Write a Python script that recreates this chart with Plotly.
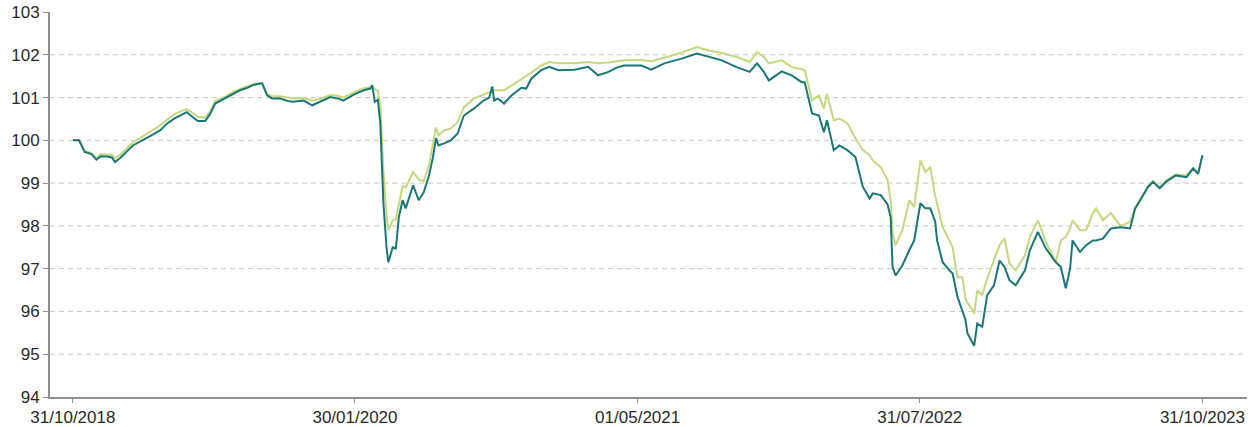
import plotly.graph_objects as go

dates = [
    "2018-10-31", "2018-11-10", "2018-11-19", "2018-11-30", "2018-12-08", "2018-12-15", "2018-12-26",
    "2019-01-02", "2019-01-07", "2019-01-15", "2019-02-05", "2019-02-19", "2019-03-04", "2019-03-21",
    "2019-04-01", "2019-04-14", "2019-04-22", "2019-05-03", "2019-05-12", "2019-05-21", "2019-06-02",
    "2019-06-10", "2019-06-18", "2019-06-29", "2019-07-07", "2019-07-17", "2019-07-28", "2019-08-09",
    "2019-08-18", "2019-08-30", "2019-09-02", "2019-09-10", "2019-09-18", "2019-10-01", "2019-10-13",
    "2019-10-22", "2019-11-08", "2019-11-22", "2019-12-05", "2019-12-21", "2020-01-02", "2020-01-11",
    "2020-01-28", "2020-02-13", "2020-02-24", "2020-02-27", "2020-03-02", "2020-03-07", "2020-03-11",
    "2020-03-16", "2020-03-21", "2020-03-24", "2020-03-31", "2020-04-05", "2020-04-10", "2020-04-16",
    "2020-04-21", "2020-05-03", "2020-05-12", "2020-05-20", "2020-05-28", "2020-06-04", "2020-06-09",
    "2020-06-13", "2020-06-22", "2020-07-03", "2020-07-14", "2020-07-24", "2020-08-09", "2020-08-25",
    "2020-09-03", "2020-09-08", "2020-09-11", "2020-09-17", "2020-09-27", "2020-10-09", "2020-10-25",
    "2020-11-02", "2020-11-10", "2020-11-26", "2020-12-09", "2020-12-24", "2021-01-19", "2021-02-10",
    "2021-02-26", "2021-03-15", "2021-03-28", "2021-04-09", "2021-05-07", "2021-05-23", "2021-06-13",
    "2021-07-11", "2021-08-05", "2021-08-24", "2021-09-14", "2021-10-08", "2021-10-29", "2021-11-10",
    "2021-11-21", "2021-11-29", "2021-12-20", "2022-01-05", "2022-01-21", "2022-01-26", "2022-02-07",
    "2022-02-18", "2022-02-26", "2022-03-03", "2022-03-14", "2022-03-23", "2022-04-05", "2022-04-18",
    "2022-04-30", "2022-05-11", "2022-05-16", "2022-05-29", "2022-06-09", "2022-06-14", "2022-06-17",
    "2022-06-22", "2022-07-03", "2022-07-14", "2022-07-22", "2022-08-01", "2022-08-09", "2022-08-17",
    "2022-08-25", "2022-08-28", "2022-09-06", "2022-09-17", "2022-09-22", "2022-09-30", "2022-10-08",
    "2022-10-13", "2022-10-16", "2022-10-24", "2022-10-27", "2022-11-01", "2022-11-09", "2022-11-17",
    "2022-11-28", "2022-12-07", "2022-12-15", "2022-12-23", "2023-01-02", "2023-01-17", "2023-01-25",
    "2023-02-07", "2023-02-20", "2023-03-08", "2023-03-16", "2023-03-24", "2023-03-31", "2023-04-04",
    "2023-04-16", "2023-04-26", "2023-05-07", "2023-05-12", "2023-05-23", "2023-06-05", "2023-06-20",
    "2023-07-06", "2023-07-14", "2023-07-24", "2023-08-04", "2023-08-12", "2023-08-23", "2023-09-02",
    "2023-09-18", "2023-10-05", "2023-10-16", "2023-10-24", "2023-10-31",
]

series_dark = [
    100.00, 100.00, 99.73, 99.68, 99.55, 99.63, 99.62,
    99.60, 99.49, 99.58, 99.88, 99.98, 100.09, 100.23,
    100.39, 100.52, 100.58, 100.66, 100.55, 100.45, 100.45,
    100.62, 100.86, 100.95, 101.00, 101.10, 101.17, 101.23,
    101.29, 101.33, 101.33, 101.05, 100.98, 100.98, 100.92,
    100.90, 100.93, 100.82, 100.90, 101.01, 100.98, 100.93,
    101.07, 101.17, 101.21, 101.29, 100.90, 100.95, 100.39,
    98.52, 97.50, 97.15, 97.50, 97.47, 98.21, 98.60,
    98.41, 98.95, 98.60, 98.78, 99.14, 99.60, 100.05,
    99.88, 99.93, 100.00, 100.16, 100.58, 100.74, 100.93,
    101.00, 101.26, 100.93, 100.98, 100.86, 101.05, 101.23,
    101.21, 101.44, 101.64, 101.72, 101.64, 101.65, 101.72,
    101.52, 101.60, 101.70, 101.75, 101.75, 101.65, 101.80,
    101.91, 102.03, 101.95, 101.87, 101.71, 101.60, 101.80,
    101.60, 101.40, 101.61, 101.52, 101.36, 101.36, 100.63,
    100.58, 100.19, 100.47, 99.77, 99.88, 99.77, 99.61,
    98.91, 98.64, 98.76, 98.72, 98.50, 98.20, 97.04,
    96.84, 97.08, 97.43, 97.66, 98.53, 98.41, 98.41,
    98.10, 97.66, 97.15, 96.96, 96.89, 96.34, 96.00,
    95.80, 95.49, 95.25, 95.20, 95.72, 95.64, 96.38,
    96.61, 97.19, 97.04, 96.73, 96.61, 96.96, 97.43,
    97.86, 97.47, 97.15, 97.04, 96.54, 97.00, 97.66,
    97.39, 97.55, 97.66, 97.66, 97.70, 97.94, 97.97,
    97.94, 98.40, 98.64, 98.91, 99.03, 98.88, 99.03,
    99.18, 99.14, 99.34, 99.22, 99.65,
]

series_light = [
    100.00, 100.00, 99.75, 99.70, 99.58, 99.68, 99.67,
    99.66, 99.58, 99.66, 99.95, 100.08, 100.18, 100.35,
    100.48, 100.62, 100.67, 100.73, 100.65, 100.55, 100.53,
    100.68, 100.92, 101.00, 101.04, 101.14, 101.20, 101.26,
    101.31, 101.34, 101.34, 101.08, 101.03, 101.03, 101.00,
    100.98, 100.99, 100.93, 100.97, 101.06, 101.04, 101.00,
    101.12, 101.22, 101.24, 101.25, 101.20, 101.15, 100.80,
    99.30, 98.25, 97.90, 98.13, 98.15, 98.50, 98.93,
    98.90, 99.26, 99.08, 99.05, 99.38, 99.90, 100.30,
    100.12, 100.23, 100.28, 100.43, 100.77, 100.98, 101.07,
    101.12, 101.15, 101.17, 101.17, 101.17, 101.28, 101.42,
    101.50, 101.58, 101.75, 101.83, 101.80, 101.80, 101.83,
    101.80, 101.82, 101.85, 101.87, 101.88, 101.85, 101.93,
    102.05, 102.18, 102.10, 102.04, 101.95, 101.83, 102.06,
    101.95, 101.80, 101.87, 101.71, 101.66, 101.64, 100.93,
    101.05, 100.74, 101.09, 100.47, 100.51, 100.40, 100.05,
    99.77, 99.65, 99.53, 99.37, 99.07, 98.60, 97.83,
    97.55, 97.90, 98.60, 98.44, 99.53, 99.26, 99.37,
    98.70, 98.53, 97.97, 97.66, 97.50, 96.80, 96.80,
    96.30, 96.20, 96.05, 95.95, 96.49, 96.38, 96.77,
    97.19, 97.55, 97.71, 97.12, 96.96, 97.31, 97.74,
    98.13, 97.62, 97.15, 97.66, 97.74, 97.94, 98.13,
    97.90, 97.90, 98.30, 98.41, 98.13, 98.30, 98.00,
    98.09, 98.42, 98.66, 98.93, 99.05, 98.90, 99.06,
    99.20, 99.18, 99.36, 99.24, 99.65,
]

tick_dates = ["2018-10-31", "2020-01-30", "2021-05-01", "2022-07-31", "2023-10-31"]
tick_labels = ["31/10/2018", "30/01/2020", "01/05/2021", "31/07/2022", "31/10/2023"]
y_ticks = [94, 95, 96, 97, 98, 99, 100, 101, 102, 103]
grid_levels = [95, 96, 97, 98, 99, 100, 101, 102]

fig = go.Figure()
fig.add_trace(go.Scatter(x=dates, y=series_light, mode="lines",
                         line=dict(color="#c3d97e", width=2), showlegend=False))
fig.add_trace(go.Scatter(x=dates, y=series_dark, mode="lines",
                         line=dict(color="#1b7777", width=2), showlegend=False))

for g in grid_levels:
    fig.add_shape(type="line", xref="paper", x0=0, x1=1, yref="y", y0=g, y1=g,
                  line=dict(color="#c8c8c8", width=1, dash="5px,4px"), layer="below")

axis_font = dict(family="Liberation Sans, Arial, sans-serif", size=17, color="#2a2a2a")

fig.update_layout(
    width=1260, height=427,
    margin=dict(l=50, r=13, t=12, b=30, autoexpand=False),
    plot_bgcolor="white", paper_bgcolor="white",
    font=axis_font,
    xaxis=dict(type="date", range=["2018-09-24", "2024-01-11"],
               tickvals=tick_dates, ticktext=tick_labels,
               showgrid=False, zeroline=False, automargin=False,
               showline=True, linecolor="#8f8f8f", linewidth=2,
               ticks="outside", ticklen=4, tickcolor="#8f8f8f", tickwidth=1,
               tickfont=axis_font),
    yaxis=dict(range=[94, 103], tickvals=y_ticks,
               showgrid=False, zeroline=False, automargin=False,
               showline=True, linecolor="#8f8f8f", linewidth=2,
               ticks="outside", ticklen=5, tickcolor="#8f8f8f", tickwidth=1,
               tickfont=axis_font),
)

fig.write_html("out.html", config={"displayModeBar": False},
               post_script="document.body.style.margin='0';")
